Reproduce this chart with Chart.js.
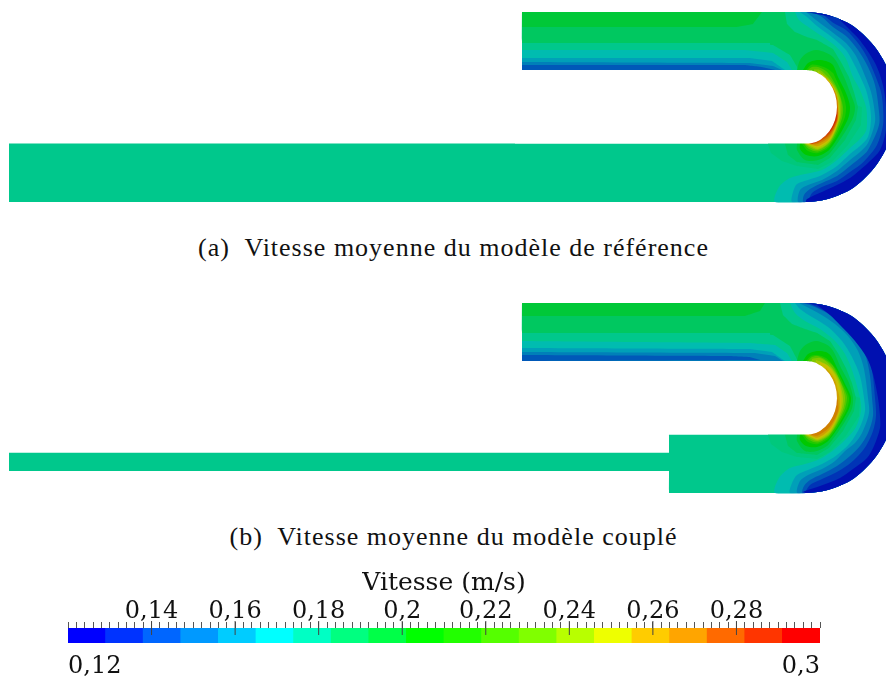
<!DOCTYPE html>
<html>
<head>
<meta charset="utf-8">
<title>Vitesse moyenne</title>
<script src="https://cdn.jsdelivr.net/npm/chart.js@4/dist/chart.umd.min.js"></script>
<style>
  html, body { margin: 0; padding: 0; background: #fff; }
  #page { position: relative; width: 886px; height: 678px; overflow: hidden; }
  canvas { position: absolute; left: 0; }
  .caption {
    position: absolute; left: 0; width: 907px; text-align: center;
    font-family: "Liberation Serif", serif; font-size: 26px; letter-spacing: 1px; color: #111;
    white-space: pre;
  }
</style>
</head>
<body>
<div id="page">
  <canvas id="panelA" width="886" height="214" style="top:0"></canvas>
  <div class="caption" style="top:233px">(a)  Vitesse moyenne du modèle de référence</div>
  <canvas id="panelB" width="886" height="214" style="top:291px"></canvas>
  <div class="caption" style="top:522px">(b)  Vitesse moyenne du modèle couplé</div>
  <canvas id="scaleBar" width="886" height="113" style="top:565px"></canvas>
</div>
<script>
// colour legend
const bandCentres = [0.1245, 0.1335, 0.1425, 0.1515, 0.1605, 0.1695, 0.1785, 0.1875, 0.1965, 0.2055,
                     0.2145, 0.2235, 0.2325, 0.2415, 0.2505, 0.2595, 0.2685, 0.2775, 0.2865, 0.2955];
const bandColors = ['#0000ff', '#0033ff', '#0066ff', '#0099ff', '#00ccff', '#00ffff', '#00ffc4', '#00ff80', '#00ff48', '#00ff00',
                    '#22ff00', '#55ff00', '#80ff00', '#b8ff00', '#eeff00', '#ffcc00', '#ffa500', '#ff6a00', '#ff3500', '#ff0000'];
const majorTicks = [0.14, 0.16, 0.18, 0.2, 0.22, 0.24, 0.26, 0.28];
const majorLabels = ['0,14', '0,16', '0,18', '0,2', '0,22', '0,24', '0,26', '0,28'];
const endTicks = [0.12, 0.3];
const endLabels = ['0,12', '0,3'];

// same bands, as they look on the shaded field
const fieldColors = {
  1: '#0010b0', 2: '#0034b6', 3: '#0058b8', 4: '#0080b8', 5: '#00a0b8', 6: '#00bcb0', 7: '#00c88c', 7.5: '#00c87c', 8: '#00c860',
  9: '#00c838', 10: '#00c800', 11: '#20c800', 12: '#50c800', 13: '#80c800', 14: '#a8c800', 15: '#c8c000',
  16: '#cfa000', 17: '#d08000', 18: '#d05800', 19: '#cc3000'
};

// bend outline, from the lower wall round to the upper wall
const outerArc = [[806,202],[821,200.6],[836,196.3],[851,189.3],[863,179.8],[874,168],[883,154.5],[890,139.5],[893,123.5],[895,107],[893,90.5],[890,74.5],[883,59.5],[874,46],[863,34.2],[851,24.7],[836,17.7],[821,13.4],[806,12]];
const innerArc = [[806,70],[811.4,70.6],[816.6,72.2],[821.5,75],[825.9,78.7],[829.7,83.2],[832.8,88.5],[835.1,94.3],[836.5,100.6],[837,107],[836.5,113.4],[835.1,119.7],[832.8,125.5],[829.7,130.8],[825.9,135.3],[821.5,139],[816.6,141.8],[811.4,143.2],[806,143.5]];

const outlineA = [[9,143.5],[806,143.5],[806,70],[522,70],[522,12],...outerArc.slice().reverse(),[9,202]];
const outlineB = [[9,161.7],[669,161.7],[669,143.5],[806,143.5],[806,70],[522,70],[522,12],...outerArc.slice().reverse(),[669,202],[669,180],[9,180]];
const slotWhite = [[515,70],...innerArc,[515,143.5]];
const wallStrips = [[[770,0],[835,0],[835,11.6],[770,11.6]], [[760,202.4],[835,202.4],[835,214],[760,214]]];

// panel (a): broad zones under everything else
const zonesA = [
  [7.5, [[768,144],[771,153],[782,161],[797,166],[818,169],[832,162],[848,145],[861,125],[862,107],[840,100],[768,100]]],
  [8, [[522,12],[785,12],[787,24],[795,32],[807,37],[817,40],[833,49],[841,62],[849,77],[854,92],[858,107],[856,120],[845,140],[830,158],[818,165],[797,162],[788,155],[785,144],[770,100],[770,43],[522,43]]],
  [9, [[522,12],[762,12],[753,24],[737,27],[522,27]]]
];
// panel (a): contours against the outer wall, lowest speed last
const outerA = [
  [6, [[795,12],[799,20],[807,26],[817,33],[833,44],[845,57],[853,77],[860,90],[866,107],[867,118],[866,131],[859,140],[850,148],[837,160],[822,170],[805,174],[790,178],[779,187],[775,202]]],
  [5, [[800,12],[807,17],[817,26],[833,38],[846,50],[853,62],[858,72],[866,90],[870,107],[871,120],[868,137],[860,146],[850,154],[837,166],[822,175],[808,180],[797,184],[793,192],[792,202]]],
  [4, [[806,12],[817,20.7],[833,32.7],[846,43],[856,56],[865,76],[871,92],[874,107],[875,122],[868,143],[860,152],[850,160],[837,171],[822,180],[808,185],[800,190],[798,202]]],
  [3, [[815,13],[822,17],[833,27],[846,36],[858,50],[868,67],[875,85],[878.5,107],[879,125],[868,150],[860,158],[850,166],[837,176],[822,183],[810,189],[804,195],[803,202]]],
  [2, [[822,13.5],[833,22.7],[846,30],[858,43],[867,57],[875,75],[881,92],[883,107],[883,125],[877,145],[868,157],[860,165],[850,172],[837,181],[822,187],[812,193],[808,201]]],
  [1, [[838,18],[850,30],[858,38],[867,50],[875,63],[880,75],[884,90],[886,107],[886,130],[880,150],[868,163],[860,170],[850,178],[837,185],[822,192],[807,199]]]
];
// panel (a): rows in the upper channel
const channelA = [
  [7, [[522,43],[740,43],[773,45],[790,55],[799,70],[522,70]]],
  [6, [[522,50],[745,50],[773,53],[787,62],[792,70],[522,70]]],
  [5, [[522,58],[750,58],[772,61],[785,70],[522,70]]],
  [4, [[522,62],[750,63],[773,66],[782,70],[522,70]]],
  [3, [[522,65],[745,65],[762,67],[775,70],[522,70]]]
];
// panel (a): rings around the inner wall, highest speed last
const ringsA = [
  [9, [[797,70],[800,60],[807,53],[817,50],[833,57],[844,77],[851,95],[855,107],[852,120],[830,153],[818,160],[805,160],[797,150],[797,144]]],
  [10, [[803,70],[808,63],[817,60],[826,61],[833,65],[838,77],[846,93],[850,107],[847.5,120],[830,149],[818,156],[806,155],[800,149],[800,144]]],
  [11, [[806,70],[811,65],[817,65],[826,68],[833,73],[835,77],[843,95],[846,107],[844,120],[830,146],[818,153],[808,151],[802,144]]],
  [12, [[808,70],[812,67],[818,67],[826,71],[831,77],[838,90],[843,107],[841.5,120],[830,144],[818,151.5],[809,149],[804,144]]],
  [13, [[814,69.5],[820,70],[828,77],[835,86],[840,97],[841.5,107],[840,120],[830,142],[818,150],[810,147.5],[805,144]]],
  [14, [[818,70.5],[825.5,77],[833,85],[838,95],[840,107],[839,120],[830,141],[818,149],[810,146],[806,144]]],
  [15, [[822,74],[829,80],[835,90],[839,107],[838.5,120],[830,139.5],[818,147.5],[811,145],[807,144]]],
  [16, [[826,78],[833,87],[838,100],[838.3,107],[838,120],[830,138],[818,146],[810,144.5]]],
  [17, [[833,88],[836.5,96],[838,107],[837.5,120],[830,136],[818,144],[810,144]]],
  [18, [[837.5,107],[837,120],[830,134],[818,142.5],[810,144]]],
  [19, [[837.2,112],[836.5,120],[830,132],[818,141],[811,143.8]]]
];

// panel (b)
const zonesB = [
  [7.5, [[768,144],[771,153],[782,161],[797,166],[817,168],[830,161],[846,145],[859,125],[860,107],[840,100],[768,100]]],
  [8, [[522,12],[780,12],[783,24],[792,33],[805,38],[817,42],[830,50],[838,62],[846,77],[852,92],[856,107],[854,120],[843,140],[829,157],[817,164],[797,162],[788,155],[785,144],[770,100],[770,42],[522,42]]],
  [9, [[522,12],[765,12],[760,20],[745,25],[522,25]]]
];
const outerB = [
  [6, [[790,12],[795,22],[805,30],[820,38],[835,50],[845,63],[853,82],[860,107],[861,120],[856,136],[848,146],[835,158],[820,168],[805,173],[790,177],[779,187],[775,202]]],
  [5, [[795,12],[800,18],[812,26],[828,36],[842,50],[852,66],[860,85],[864,107],[865,120],[860,136],[850,152],[837,164],[822,173],[808,179],[797,184],[792,192],[790,202]]],
  [4, [[799,12],[807,16],[820,23],[835,33],[848,45],[858,60],[864,78],[868,107],[869,122],[862,142],[855,152],[845,160],[835,170],[822,178],[808,184],[800,190],[797,202]]],
  [3, [[803,12],[815,16],[830,24],[845,36],[858,50],[866,66],[870,85],[872,107],[873,125],[868,142],[860,155],[850,165],[837,175],[822,183],[810,189],[804,195],[802,202]]],
  [2, [[808,12],[825,20],[838,29],[853,43],[865,60],[872,80],[875,107],[876,125],[873,140],[866,155],[858,165],[848,174],[835,182],[820,189],[810,194],[805,202]]],
  [1, [[817,14],[830,24],[840,34],[855,50],[867,67],[873,83],[878,107],[880,125],[880,137],[874,155],[867,167],[853,178],[840,187],[820,195],[803,201]]]
];
const channelB = [
  [7, [[522,42],[745,42],[773,44],[790,55],[798,70],[522,70]]],
  [6, [[522,50],[750,52],[775,54],[787,62],[792,70],[522,70]]],
  [5, [[522,57],[750,58],[772,61],[785,70],[522,70]]],
  [4, [[522,61],[755,62],[775,65],[783,70],[522,70]]],
  [3, [[522,64],[730,65],[750,66],[760,69],[522,70]]]
];
const ringsB = [
  [9, [[797,70],[800,60],[807,53],[817,50],[831,57],[841,77],[849,92],[853,107],[851,120],[829,153],[817,160],[805,160],[797,150],[797,144]]],
  [10, [[803,70],[808,63],[817,60],[826,61],[831,65],[837,77],[845,93],[851,107],[848,120],[829,149],[817,156],[806,155],[800,149],[800,144]]],
  [11, [[806,70],[811,65],[817,64],[826,67],[832,73],[836,78],[843,92],[849,107],[846,120],[830,146],[818,153],[808,151],[802,144]]],
  [12, [[808,70],[812,66],[818,65],[826,69],[833,75],[839,87],[845,100],[847,107],[844,120],[830,144],[818,151.5],[809,149],[804,144]]],
  [13, [[812,68],[820,67],[828,72],[836,82],[842,95],[845,107],[842.5,120],[830,143],[818,150],[810,147.5],[805,144]]],
  [14, [[816,69],[824,72],[832,78],[839,90],[843,107],[841,120],[830,141.5],[818,149],[810,146],[806,144]]],
  [15, [[820,71],[828,75],[835,84],[840,97],[841.5,107],[840,120],[830,140],[818,148],[811,145.5],[807,144]]],
  [16, [[826,77],[834,87],[838,100],[839.5,107],[839,120],[830,138],[818,146.5],[810,144.5]]],
  [17, [[837.8,108],[838,120],[830,135.5],[818,144.5],[811,144]]]
];

function shapeDataset(points, color, tension) {
  return {
    data: points.map(p => ({ x: p[0], y: p[1] })),
    showLine: true,
    fill: 'shape',
    backgroundColor: color,
    borderWidth: 0,
    pointRadius: 0,
    tension: tension
  };
}

function contourDatasets(outline, zones, channel, outer, rings) {
  const straight = 0.0001, curved = 0.3;
  const list = [shapeDataset(outline, fieldColors[7], straight)];
  zones.forEach(c => list.push(shapeDataset(c[1], fieldColors[c[0]], straight)));
  outer.forEach(c => list.push(shapeDataset([...c[1], ...outerArc], fieldColors[c[0]], curved)));
  channel.forEach(c => list.push(shapeDataset(c[1], fieldColors[c[0]], straight)));
  rings.forEach(c => list.push(shapeDataset(c[1], fieldColors[c[0]], curved)));
  list.push(shapeDataset(slotWhite, '#ffffff', straight));
  wallStrips.forEach(s => list.push(shapeDataset(s, '#ffffff', straight)));
  // chart.js paints the first dataset on top
  return list.reverse();
}

function drawPanel(id, datasets) {
  new Chart(document.getElementById(id), {
    type: 'scatter',
    data: { datasets },
    options: {
      responsive: false,
      animation: false,
      events: [],
      layout: { padding: 0 },
      plugins: { legend: { display: false }, tooltip: { enabled: false } },
      scales: {
        x: { type: 'linear', min: 0, max: 886, display: false },
        y: { type: 'linear', min: 0, max: 214, reverse: true, display: false }
      }
    }
  });
}

drawPanel('panelA', contourDatasets(outlineA, zonesA, channelA, outerA, ringsA));
drawPanel('panelB', contourDatasets(outlineB, zonesB, channelB, outerB, ringsB));

const scaleFont = { family: '"DejaVu Serif"', size: 24 };

new Chart(document.getElementById('scaleBar'), {
  type: 'bar',
  data: {
    datasets: [
      {
        type: 'scatter',
        data: majorTicks.map(x => ({ x, y: 1 })),
        pointStyle: 'line',
        rotation: 90,
        pointRadius: 7,
        pointBorderColor: '#444',
        pointBorderWidth: 1,
        showLine: false,
        clip: false
      },
      {
        data: bandCentres.map(x => ({ x, y: 1 })),
        backgroundColor: bandColors,
        barThickness: 37.7,
        borderWidth: 0
      }
    ]
  },
  options: {
    responsive: false,
    animation: false,
    events: [],
    layout: { padding: { left: 68, right: 66, top: 0, bottom: 0 } },
    plugins: {
      legend: { display: false },
      tooltip: { enabled: false },
      title: {
        display: true,
        text: 'Vitesse (m/s)',
        color: '#111',
        font: { family: '"DejaVu Serif"', size: 25, weight: 'normal' },
        padding: { top: 3, bottom: 0 }
      }
    },
    scales: {
      x: {
        type: 'linear',
        position: 'top',
        min: 0.12,
        max: 0.3,
        offset: false,
        border: { display: false },
        grid: { offset: false, drawOnChartArea: false, tickLength: 6, tickColor: '#555', tickWidth: 1 },
        afterBuildTicks: scale => {
          const ticks = [];
          for (let i = 0; i <= 90; i++) ticks.push({ value: 0.12 + i * 0.002 });
          scale.ticks = ticks;
        },
        afterFit: scale => { scale.height = 30; },
        ticks: {
          autoSkip: false,
          maxRotation: 0,
          minRotation: 0,
          padding: -4,
          color: '#111',
          font: scaleFont,
          callback: value => {
            const i = majorTicks.findIndex(t => Math.abs(t - value) < 1e-6);
            return i < 0 ? '' : majorLabels[i];
          }
        }
      },
      x2: {
        type: 'linear',
        axis: 'x',
        position: 'bottom',
        min: 0.12,
        max: 0.3,
        offset: false,
        border: { display: false },
        grid: { display: false, drawTicks: false },
        afterBuildTicks: scale => { scale.ticks = endTicks.map(value => ({ value })); },
        afterFit: scale => { scale.height = 35; },
        ticks: {
          autoSkip: false,
          maxRotation: 0,
          minRotation: 0,
          align: 'inner',
          padding: 9,
          color: '#111',
          font: scaleFont,
          callback: value => endLabels[endTicks.findIndex(t => Math.abs(t - value) < 1e-6)]
        }
      },
      y: { type: 'linear', min: 0, max: 1, display: false }
    }
  }
});
</script>
</body>
</html>
